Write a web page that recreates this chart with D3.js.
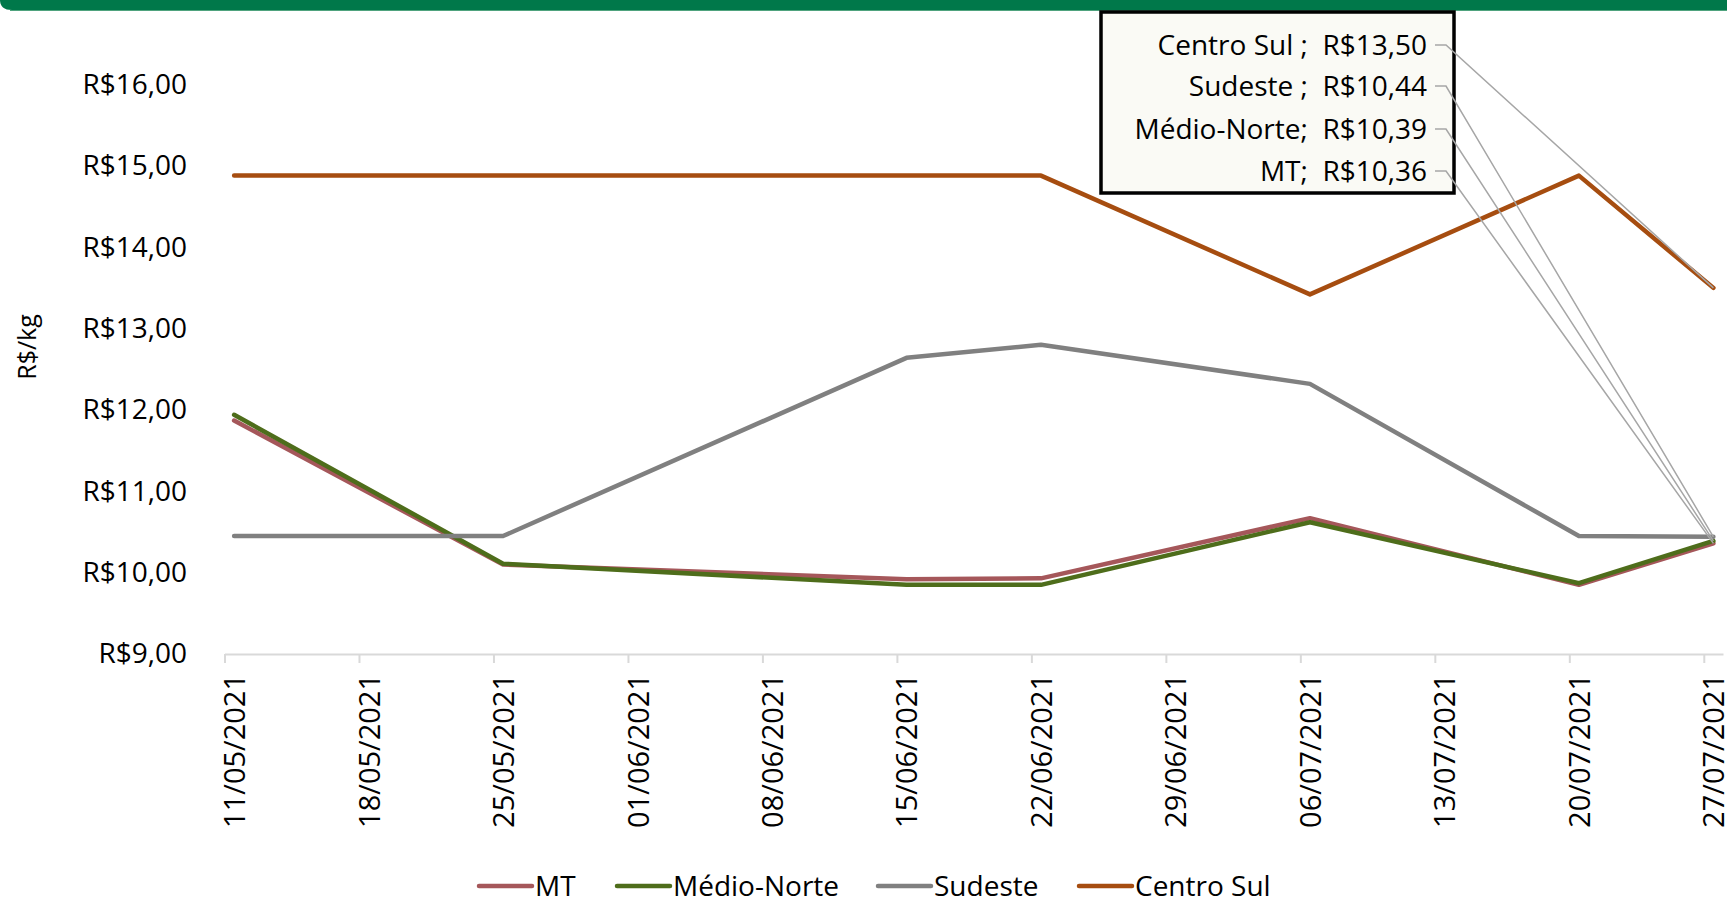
<!DOCTYPE html>
<html>
<head>
<meta charset="utf-8">
<script src="https://cdn.jsdelivr.net/npm/d3@7"></script>
<style>
  body { margin: 0; background: #fff; }
  svg { display: block; font-family: "Open Sans", sans-serif; }
</style>
</head>
<body>
<script>
(function(){

    //chart data
    var dates = ["2021-05-11", "2021-05-25", "2021-06-15", "2021-06-22", "2021-07-06", "2021-07-20", "2021-07-27"];
    var seriesNames = ["MT", "Médio-Norte", "Sudeste", "Centro Sul"];
    var mtValues = [11.87, 10.10, 9.92, 9.93, 10.67, 9.85, 10.36];
    var medioNorteValues = [11.94, 10.11, 9.85, 9.85, 10.62, 9.87, 10.39];
    var sudesteValues = [10.45, 10.45, 12.64, 12.80, 12.32, 10.45, 10.44];
    var centroSulValues = [14.88, 14.88, 14.88, 14.88, 13.42, 14.88, 13.50];
    var labelPrefixes = ["MT;", "Médio-Norte;", "Sudeste ;", "Centro Sul ;"];
    var yTicks = [9, 10, 11, 12, 13, 14, 15, 16];
    var colors = ["#A5575A", "#4E6D1B", "#808080", "#A64D10"];

    var width = 1727,
        height = 905;

    var allValues = [mtValues, medioNorteValues, sudesteValues, centroSulValues];

    var brl = d3.formatLocale({decimal: ",", thousands: ".", grouping: [3], currency: ["R$", ""]});
    var money = brl.format("$.2f");

    var svg = d3.select("body")
        .append("svg")
        .attr("width", width)
        .attr("height", height);

    //green band on top
    svg.append("path")
        .attr("d", "M0,0 H" + width + " V10 H12 Q0,10 0,0 Z")
        .attr("fill", "#00784A");
    svg.append("line")
        .attr("x1", 10).attr("x2", width)
        .attr("y1", 10.5).attr("y2", 10.5)
        .attr("stroke", "#4FA37E")
        .attr("stroke-width", 1);

    //scales
    var parseDay = function(s){ return new Date(s + "T00:00:00Z"); };
    var halfDay = 12 * 3600 * 1000;
    var x = d3.scaleUtc()
        .domain([parseDay("2021-05-11"), parseDay("2021-07-28")])
        .range([224.5, 1723]);
    var y = d3.scaleLinear()
        .domain([9, 16])
        .range([654, 84.5]);

    //x axis, one tick a week
    var tickDates = d3.range(12).map(function(i){ return d3.utcDay.offset(parseDay("2021-05-11"), i * 7); });
    var dayPx = x(parseDay("2021-05-12")) - x(parseDay("2021-05-11"));

    var xAxis = svg.append("g")
        .attr("transform", "translate(0,654)")
        .call(d3.axisBottom(x)
            .tickValues(tickDates)
            .tickSize(9)
            .tickSizeOuter(0)
            .tickFormat(d3.utcFormat("%d/%m/%Y")));
    xAxis.select(".domain").attr("stroke", "#D9D9D9").attr("stroke-width", 2);
    xAxis.selectAll(".tick line").attr("stroke", "#D9D9D9").attr("stroke-width", 2);
    xAxis.selectAll(".tick text")
        .attr("fill", "#000")
        .attr("font-size", 29)
        .attr("font-family", "Open Sans")
        .attr("text-anchor", "end")
        .attr("transform", "translate(" + (dayPx / 2) + ",0) rotate(-90)")
        .attr("x", -20)
        .attr("y", 0)
        .attr("dy", "0.36em");

    //y axis
    var yAxis = svg.append("g")
        .attr("transform", "translate(187,0)")
        .call(d3.axisLeft(y)
            .tickValues(yTicks)
            .tickSize(0)
            .tickPadding(0)
            .tickFormat(money));
    yAxis.select(".domain").remove();
    yAxis.selectAll(".tick text")
        .attr("fill", "#000")
        .attr("font-size", 28)
        .attr("font-family", "Open Sans");

    svg.append("text")
        .attr("transform", "translate(27,347) rotate(-90)")
        .attr("text-anchor", "middle")
        .attr("dy", "0.35em")
        .attr("font-size", 25)
        .text("R$/kg");

    //lines
    var line = d3.line()
        .x(function(d, i){ return x(new Date(parseDay(dates[i]).getTime() + halfDay)); })
        .y(function(d){ return y(d); });

    svg.selectAll(".series")
        .data(allValues)
        .enter()
        .append("path")
        .attr("class", "series")
        .attr("d", line)
        .attr("fill", "none")
        .attr("stroke", function(d, i){ return colors[i]; })
        .attr("stroke-width", 4.5)
        .attr("stroke-linejoin", "round")
        .attr("stroke-linecap", "round");

    //data label box
    svg.append("rect")
        .attr("x", 1101)
        .attr("y", 12)
        .attr("width", 353)
        .attr("height", 181)
        .attr("fill", "#FAFAF5")
        .attr("stroke", "#000")
        .attr("stroke-width", 3.5);

    var rowY = [171, 129, 86, 45];
    var lastIdx = dates.length - 1;
    var lastX = x(new Date(parseDay(dates[lastIdx]).getTime() + halfDay));

    svg.selectAll(".leader")
        .data(allValues)
        .enter()
        .append("polyline")
        .attr("class", "leader")
        .attr("points", function(d, i){
            return [[1435, rowY[i]], [1446, rowY[i]], [lastX, y(d[lastIdx])]].join(" ");
        })
        .attr("fill", "none")
        .attr("stroke", "#A6A6A6")
        .attr("stroke-width", 1.5);

    svg.selectAll(".dlabel")
        .data(allValues)
        .enter()
        .append("text")
        .attr("class", "dlabel")
        .attr("x", 1427)
        .attr("y", function(d, i){ return rowY[i]; })
        .attr("dy", "0.35em")
        .attr("text-anchor", "end")
        .attr("font-size", 28)
        .style("white-space", "pre")
        .text(function(d, i){ return labelPrefixes[i] + "  " + money(d[lastIdx]); });

    //legend
    var legendX = [479, 617, 878, 1079];
    var legend = svg.selectAll(".legend")
        .data(seriesNames)
        .enter()
        .append("g")
        .attr("class", "legend")
        .attr("transform", function(d, i){ return "translate(" + legendX[i] + ",886)"; });
    legend.append("line")
        .attr("x1", 0).attr("x2", 53)
        .attr("y1", 0).attr("y2", 0)
        .attr("stroke", function(d, i){ return colors[i]; })
        .attr("stroke-width", 4.5)
        .attr("stroke-linecap", "round");
    legend.append("text")
        .attr("x", 56)
        .attr("dy", "0.35em")
        .attr("font-size", 28)
        .text(function(d){ return d; });

})();
</script>
</body>
</html>
